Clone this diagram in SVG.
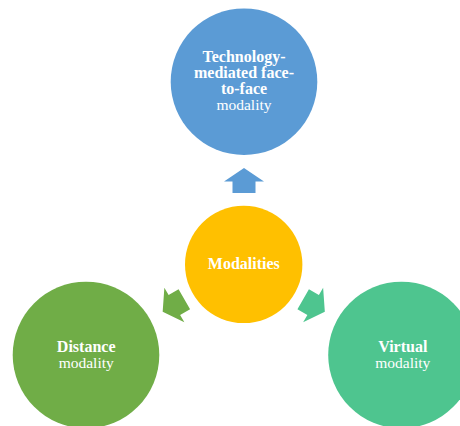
<svg xmlns="http://www.w3.org/2000/svg" width="460" height="426" viewBox="0 0 460 426">
  <defs>
    <style>
      .lbl { font-family: "Liberation Serif", "Times New Roman", serif; font-size: 15.5px; fill: #FFFFFF; text-anchor: middle; }
      .b { font-weight: bold; font-size: 16px; }
    </style>
    <polygon id="arrow" points="0,-12.5 20,1 11.5,1 11.5,12.5 -11.5,12.5 -11.5,1 -20,1"/>
  </defs>
  <rect width="460" height="426" fill="#FFFFFF"/>
  <g id="connectors">
    <use href="#arrow" fill="#5B9BD5" transform="translate(244,180.5)"/>
    <use href="#arrow" fill="#70AD47" transform="translate(173.5,305.5) rotate(-120)"/>
    <use href="#arrow" fill="#4EC58F" transform="translate(314,305.5) rotate(120)"/>
  </g>
  <g id="tech">
    <circle cx="244" cy="81.7" r="73.3" fill="#5B9BD5"/>
    <text class="lbl b" x="244" y="62">Technology-</text>
    <text class="lbl b" x="244" y="78">mediated face-</text>
    <text class="lbl b" x="244" y="94">to-face</text>
    <text class="lbl" x="244" y="110">modality</text>
  </g>
  <g id="center">
    <circle cx="243.7" cy="264.4" r="58.7" fill="#FFC000"/>
    <text class="lbl b" x="243.8" y="268.5">Modalities</text>
  </g>
  <g id="distance">
    <circle cx="86" cy="355" r="73.3" fill="#70AD47"/>
    <text class="lbl b" x="86.2" y="351.7">Distance</text>
    <text class="lbl" x="86.2" y="368.3">modality</text>
  </g>
  <g id="virtual">
    <circle cx="401.5" cy="355" r="73.3" fill="#4EC58F"/>
    <text class="lbl b" x="402.8" y="351.7">Virtual</text>
    <text class="lbl" x="402.8" y="368.3">modality</text>
  </g>
</svg>
